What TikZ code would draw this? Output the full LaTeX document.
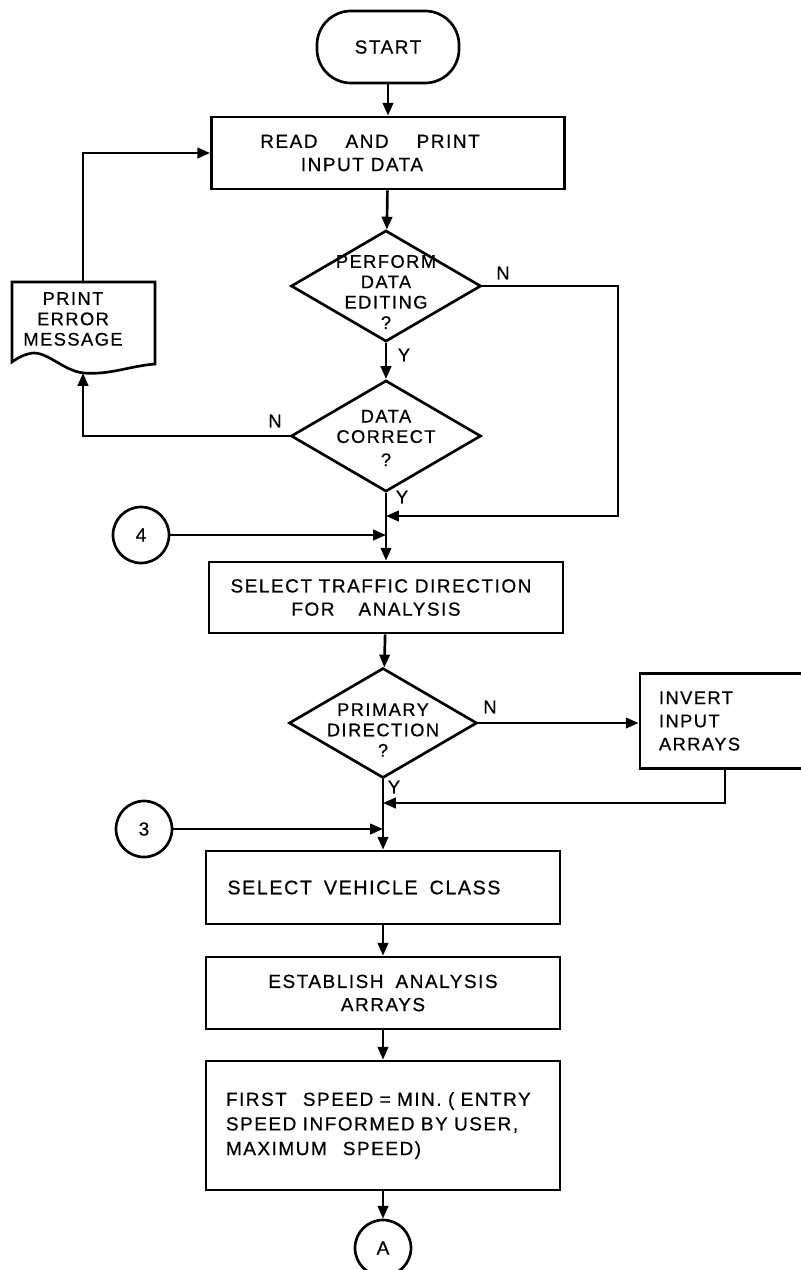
\documentclass[tikz,border=0pt]{standalone}
\usepackage{fontspec}
\setmainfont{Liberation Sans}[LetterSpace=8,FakeBold=0.6]
\usetikzlibrary{arrows.meta,shapes.geometric}

\begin{document}
\begin{tikzpicture}[x=0.025cm,y=-0.025cm,line width=1.9pt,
  >={Triangle[length=0.32cm,width=0.26cm]},
  every node/.style={font=\fontsize{13.5}{16.5}\selectfont},
  term/.style={draw,rounded corners=0.85cm,minimum width=3.55cm,minimum height=1.8cm},
  box/.style={draw,align=center,minimum width=8.85cm,minimum height=1.8cm},
  lbox/.style={draw,align=left,inner xsep=0.5cm},
  decision/.style={draw,diamond,minimum width=4.75cm,minimum height=2.78cm,inner sep=0pt},
  dtext/.style={align=center,font=\fontsize{13}{14.5}\selectfont},
  conn/.style={draw,circle,minimum size=1.4cm,inner sep=0pt},
  yn/.style={inner sep=0pt,font=\fontsize{13}{14}\selectfont}]

\useasboundingbox (0,0) rectangle (801,1270);

\node[term] (start) at (388,47) {START};
\node[box,minimum width=8.825cm] (read) at (388,153)
  {READ\hspace{0.7cm}AND\hspace{0.7cm}PRINT\hspace*{0.9cm}\\INPUT DATA\hspace*{1.3cm}};

\node[decision] (d1) at (386,286) {};
\node[dtext] (d1t) at (386,292) {PERFORM\\DATA\\EDITING\\?};
\node[decision] (d2) at (386,436) {};
\node[dtext] (d2t) at (386,438) {DATA\\CORRECT\\[2pt]?};

% print error message
\draw (12,282) -- (155,282) -- (155,364)
  .. controls (130,366) and (110,375) .. (84,373)
  .. controls (62,371) and (45,348) .. (28,354)
  .. controls (20,356) and (15,360) .. (12,362) -- cycle;
\node[dtext] (err) at (73,319) {PRINT\\ERROR\\MESSAGE};
\coordinate (errt) at (83,282);
\coordinate (errb) at (83,373);

\node[conn] (c4) at (141,535) {4};
\coordinate (j1) at (386,516);
\coordinate (j2) at (386,535);
\coordinate (r1) at (618,516);

\node[box,minimum height=1.775cm] (traffic) at (386,597.5)
  {SELECT TRAFFIC DIRECTION\hspace*{0.25cm}\\FOR\hspace{0.6cm}ANALYSIS\hspace*{0.5cm}};

\node[decision,minimum width=4.7cm,minimum height=2.75cm] (d3) at (383,723) {};
\node[dtext] (d3t) at (383,730) {PRIMARY\\DIRECTION\\?};
\node[lbox,minimum width=4.25cm,minimum height=2.375cm,text width=3.3cm,inner xsep=0.475cm,
  font=\fontsize{13}{16.5}\selectfont] (invert) at (725,721) {INVERT\\INPUT\\ARRAYS};

\node[conn] (c3) at (144,829) {3};
\coordinate (j3) at (383,803);
\coordinate (j4) at (383,829);

\node[box,minimum height=1.825cm,font=\fontsize{14}{16.5}\selectfont] (vehicle) at (383,887.5)
  {SELECT\hspace{0.3cm}VEHICLE\hspace{0.3cm}CLASS\hspace*{0.95cm}};
\node[box] (establish) at (383,993) {ESTABLISH\hspace{0.3cm}ANALYSIS\\ARRAYS};
\node[lbox,minimum width=8.85cm,minimum height=3.225cm,text width=7.85cm,
  font=\fontsize{13.5}{17.5}\selectfont] (first) at (383,1125.5)
  {FIRST\hspace{0.4cm}SPEED = MIN. ( ENTRY\\SPEED INFORMED BY USER,\\MAXIMUM\hspace{0.4cm}SPEED)};
\node[conn] (a) at (383,1248) {A};

\node[yn] (n1) at (503,273) {N};
\node[yn] (y1) at (404,355) {Y};
\node[yn] (n2) at (275,421) {N};
\node[yn] (y2) at (402,497) {Y};
\node[yn] (n3) at (490,707) {N};
\node[yn] (y3) at (394,787) {Y};

\draw[->] (start) -- (read);
\draw[->] (read) -- (d1);
\draw[->] (d1) -- (d2);
\draw[->] (d1.east) -| (r1) -- (j1);
\draw[->] (d2.west) -| (errb);
\draw[->] (errt) |- (read.west);
\draw[->] (d2) -- (traffic);
\draw[->] (c4) -- (j2);
\draw[->] (traffic) -- (d3);
\draw[->] (d3.east) -- (d3.east -| invert.west);
\draw[->] (invert.south) |- (j3);
\draw[->] (d3) -- (vehicle);
\draw[->] (c3) -- (j4);
\draw[->] (vehicle) -- (establish);
\draw[->] (establish) -- (first);
\draw[->] (first) -- (a);
\end{tikzpicture}
\end{document}
